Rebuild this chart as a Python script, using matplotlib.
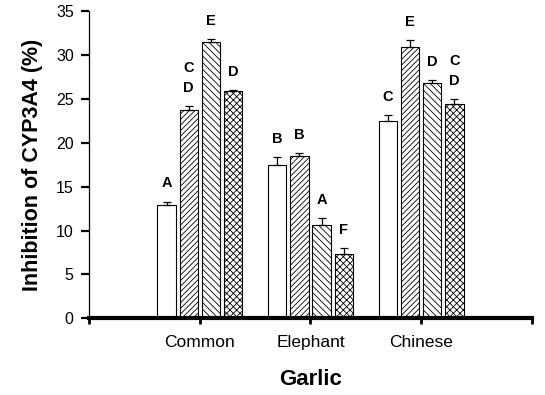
import numpy as np
import matplotlib
matplotlib.use("Agg")
import matplotlib.pyplot as plt

plt.rcParams["font.family"] = ["Liberation Sans", "DejaVu Sans"]
plt.rcParams["hatch.linewidth"] = 0.6

# data
garlic = ["Common", "Elephant", "Chinese"]
s1 = [12.85, 17.5, 22.45]
s2 = [23.7, 18.5, 30.95]
s3 = [31.5, 10.65, 26.75]
s4 = [25.9, 7.3, 24.4]
e1 = [0.45, 0.9, 0.7]
e2 = [0.5, 0.3, 0.75]
e3 = [0.35, 0.8, 0.4]
e4 = [0.15, 0.75, 0.6]
lab1 = ["A", "B", "C"]
lab2 = ["C\nD", "B", "E"]
lab3 = ["E", "A", "D"]
lab4 = ["D", "F", "C\nD"]

series = [s1, s2, s3, s4]
errs = [e1, e2, e3, e4]
labs = [lab1, lab2, lab3, lab4]
hatches = [None, "//////", "\\\\\\\\\\", "xxxxx"]
offsets = [-0.3, -0.1, 0.1, 0.3]

fig = plt.figure(figsize=(5.45, 3.95), dpi=100)
ax = fig.add_axes([0.1633, 0.1942, 0.8127, 0.7778])

x = np.arange(1, len(garlic) + 1)
w = 0.165
for vals, err, lab, h, off in zip(series, errs, labs, hatches, offsets):
    ax.bar(x + off, vals, w, color="white", edgecolor="black", linewidth=0.8, hatch=h)
    ax.errorbar(x + off, vals, yerr=[np.zeros(len(vals)), err], fmt="none",
                ecolor="black", elinewidth=0.9, capsize=3.2, capthick=0.9)
    for xi, v, e, t in zip(x + off, vals, err, lab):
        ax.annotate(t, (xi, v + e), xytext=(0, 8), textcoords="offset points",
                    ha="center", va="bottom", fontsize=10.5, fontweight="bold",
                    linespacing=1.55)

ax.set_xlim(0, 4)
ax.set_ylim(0, 35)
ax.set_yticks(range(0, 36, 5))
ax.set_xticks([0, 1, 2, 3, 4])
ax.set_xticklabels([""] + garlic + [""])
ax.tick_params(axis="y", direction="out", length=6, width=1.6, labelsize=11.5, pad=5)
ax.tick_params(axis="x", direction="out", length=4, width=2, labelsize=12.5, pad=8)
ax.spines["top"].set_visible(False)
ax.spines["right"].set_visible(False)
ax.spines["left"].set_linewidth(0.9)
ax.spines["bottom"].set_linewidth(3)

ax.set_ylabel("Inhibition of CYP3A4 (%)", fontsize=15.5, fontweight="bold", labelpad=9)
ax.set_xlabel("Garlic", fontsize=16, fontweight="bold", labelpad=14)

fig.savefig("out.png", dpi=100)
